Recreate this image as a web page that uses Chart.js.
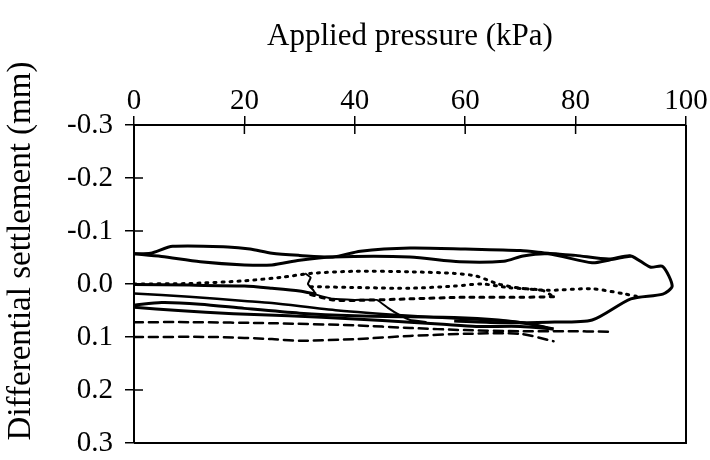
<!DOCTYPE html>
<html lang="en">
<head>
    <meta charset="UTF-8">
    <title>Differential settlement vs applied pressure</title>
    <script src="https://cdn.jsdelivr.net/npm/chart.js"></script>
    <style>
        html, body { margin: 0; padding: 0; background: #fff; }
        #wrap { width: 710px; height: 460px; }
    </style>
</head>
<body>
    <div id="wrap"><canvas id="myChart" width="710" height="460"></canvas></div>

    <script>
        // axis ticks
        const pressureTicks = [0, 20, 40, 60, 80, 100];
        const settlementTicks = [-0.3, -0.2, -0.1, 0.0, 0.1, 0.2, 0.3];

        // top solid loop (loading branch, knob at the end, return underneath)
        const topLoopP = [0, 3, 7, 17, 21, 25, 30, 36, 41, 50, 60, 70, 75, 80, 86, 90, 93.5, 95.8, 97.5, 95.8, 90, 83, 75, 66, 58];
        const topLoopS = [-0.057, -0.058, -0.071, -0.070, -0.066, -0.058, -0.054, -0.051, -0.062, -0.068, -0.066, -0.063, -0.058, -0.054, -0.047, -0.053, -0.032, -0.033, 0.004, 0.019, 0.028, 0.068, 0.072, 0.073, 0.070];
        // top solid loop, second branch
        const topRetP = [0, 5, 12, 20, 25, 30, 36, 50, 59, 67, 70.5, 75, 83, 86, 90];
        const topRetS = [-0.057, -0.052, -0.042, -0.036, -0.036, -0.045, -0.051, -0.051, -0.042, -0.043, -0.053, -0.057, -0.040, -0.045, -0.053];

        // dotted loop around zero
        const dotUpP = [0, 10, 20, 27, 32, 40, 50, 58, 62, 66, 70, 75, 83, 89, 91];
        const dotUpS = [0.000, -0.001, -0.006, -0.013, -0.020, -0.024, -0.023, -0.020, -0.015, 0.000, 0.008, 0.012, 0.009, 0.019, 0.023];
        const dotMidP = [32, 42, 50, 58, 63, 68, 74, 76];
        const dotMidS = [0.005, 0.007, 0.008, 0.004, 0.000, 0.007, 0.012, 0.024];
        const dotLowP = [32, 36, 40, 50, 60, 70, 76];
        const dotLowS = [0.020, 0.030, 0.031, 0.028, 0.025, 0.025, 0.024];

        // thin solid curl and diagonal
        const curlP = [31, 32, 31.5, 32.5, 33, 36, 40, 44, 46, 48, 50, 53];
        const curlS = [-0.020, -0.012, 0.000, 0.012, 0.020, 0.028, 0.030, 0.030, 0.045, 0.058, 0.068, 0.072];

        // solid lines leaving the left axis near zero
        const solidBP = [0, 10, 20, 25, 30, 33];
        const solidBS = [0.001, 0.002, 0.004, 0.008, 0.013, 0.019];
        const solidCP = [0, 10, 20, 25, 37, 50, 60, 70, 75];
        const solidCS = [0.018, 0.024, 0.032, 0.036, 0.050, 0.060, 0.066, 0.072, 0.083];

        // lower solid loop
        const lowLoopP = [0, 5, 12, 20, 30, 40, 50, 58, 66, 72, 76];
        const lowLoopS = [0.040, 0.035, 0.038, 0.046, 0.055, 0.060, 0.062, 0.063, 0.068, 0.076, 0.085];
        const lowRetP = [0, 8, 18, 28, 40, 50, 56, 62, 70, 76];
        const lowRetS = [0.044, 0.050, 0.056, 0.060, 0.066, 0.072, 0.076, 0.080, 0.080, 0.085];

        // dashed lines
        const dashAP = [0, 10, 25, 40, 50, 60, 70, 78, 86];
        const dashAS = [0.072, 0.072, 0.074, 0.078, 0.083, 0.087, 0.089, 0.089, 0.090];
        const dashBP = [0, 15, 25, 30, 40, 50, 60, 70, 76];
        const dashBS = [0.100, 0.100, 0.104, 0.107, 0.104, 0.098, 0.094, 0.094, 0.108];

        const ink = '#000';
        const family = '"Liberation Serif", "Times New Roman", serif';
        const tickFont = { family: family, size: 29 };
        const xTitleFont = { family: family, size: 31 };
        const yTitleFont = { family: family, size: 33 };

        function pts(p, s) {
            return p.map((v, i) => ({ x: v, y: s[i] }));
        }

        function line(p, s, width, dash, tension) {
            return {
                data: pts(p, s),
                showLine: true,
                borderColor: ink,
                borderWidth: width,
                borderDash: dash || [],
                borderCapStyle: dash ? 'round' : 'butt',
                pointRadius: 0,
                tension: tension === undefined ? 0.25 : tension,
                fill: false
            };
        }

        // box on the right/bottom plus inward half of the ticks
        const frame = {
            id: 'frame',
            afterDraw(chart) {
                const { ctx, chartArea: a, scales } = chart;
                ctx.save();
                ctx.strokeStyle = ink;
                ctx.lineWidth = 2;
                ctx.beginPath();
                ctx.moveTo(a.left, a.bottom);
                ctx.lineTo(a.right, a.bottom);
                ctx.lineTo(a.right, a.top);
                ctx.stroke();
                ctx.lineWidth = 1.5;
                ctx.beginPath();
                pressureTicks.forEach(v => {
                    const x = scales.x.getPixelForValue(v);
                    ctx.moveTo(x, a.top);
                    ctx.lineTo(x, a.top + 9);
                });
                settlementTicks.forEach(v => {
                    const y = scales.y.getPixelForValue(v);
                    ctx.moveTo(a.left, y);
                    ctx.lineTo(a.left + 9, y);
                });
                ctx.stroke();
                ctx.restore();
            }
        };

        new Chart(document.getElementById('myChart'), {
            type: 'scatter',
            data: {
                datasets: [
                    line(topLoopP, topLoopS, 3),
                    line(topRetP, topRetS, 3),
                    line(dotUpP, dotUpS, 3, [2, 6]),
                    line(dotMidP, dotMidS, 3, [2, 6]),
                    line(dotLowP, dotLowS, 3, [4, 6]),
                    line(curlP, curlS, 2, null, 0.1),
                    line(solidBP, solidBS, 3),
                    line(solidCP, solidCS, 2.5),
                    line(lowLoopP, lowLoopS, 3),
                    line(lowRetP, lowRetS, 3),
                    line(dashAP, dashAS, 2.5, [9, 6]),
                    line(dashBP, dashBS, 2.5, [9, 6])
                ]
            },
            options: {
                responsive: false,
                animation: false,
                layout: { padding: { left: 0, top: 0, right: 24, bottom: 17 } },
                plugins: { legend: { display: false }, tooltip: { enabled: false } },
                scales: {
                    x: {
                        type: 'linear',
                        position: 'top',
                        min: 0,
                        max: 100,
                        afterBuildTicks: axis => { axis.ticks = pressureTicks.map(v => ({ value: v })); },
                        afterFit: axis => {
                            axis.height = 125;
                            axis.paddingLeft = 0;
                            axis.paddingRight = 0;
                        },
                        ticks: { color: ink, font: tickFont, padding: -3, maxRotation: 0 },
                        grid: { drawOnChartArea: false, color: ink, tickLength: 9, lineWidth: 1.5 },
                        border: { color: ink, width: 2 },
                        title: { display: true, text: 'Applied pressure (kPa)', color: ink, font: xTitleFont, padding: { top: 18, bottom: 0 } }
                    },
                    y: {
                        type: 'linear',
                        reverse: true,
                        min: -0.3,
                        max: 0.3,
                        afterBuildTicks: axis => { axis.ticks = settlementTicks.map(v => ({ value: v })); },
                        afterFit: axis => {
                            axis.width = 134;
                            axis.paddingTop = 0;
                            axis.paddingBottom = 0;
                        },
                        ticks: {
                            color: ink,
                            font: tickFont,
                            padding: 12,
                            callback: v => (Math.abs(v) < 1e-9 ? '0.0' : Number(v).toFixed(1))
                        },
                        grid: { drawOnChartArea: false, color: ink, tickLength: 9, lineWidth: 1.5 },
                        border: { color: ink, width: 2 },
                        // leading blanks lift the rotated title a little, as in the original
                        title: { display: true, text: '        Differential settlement (mm)', color: ink, font: yTitleFont, padding: { top: 2, bottom: 0 } }
                    }
                }
            },
            plugins: [frame]
        });
    </script>
</body>
</html>
